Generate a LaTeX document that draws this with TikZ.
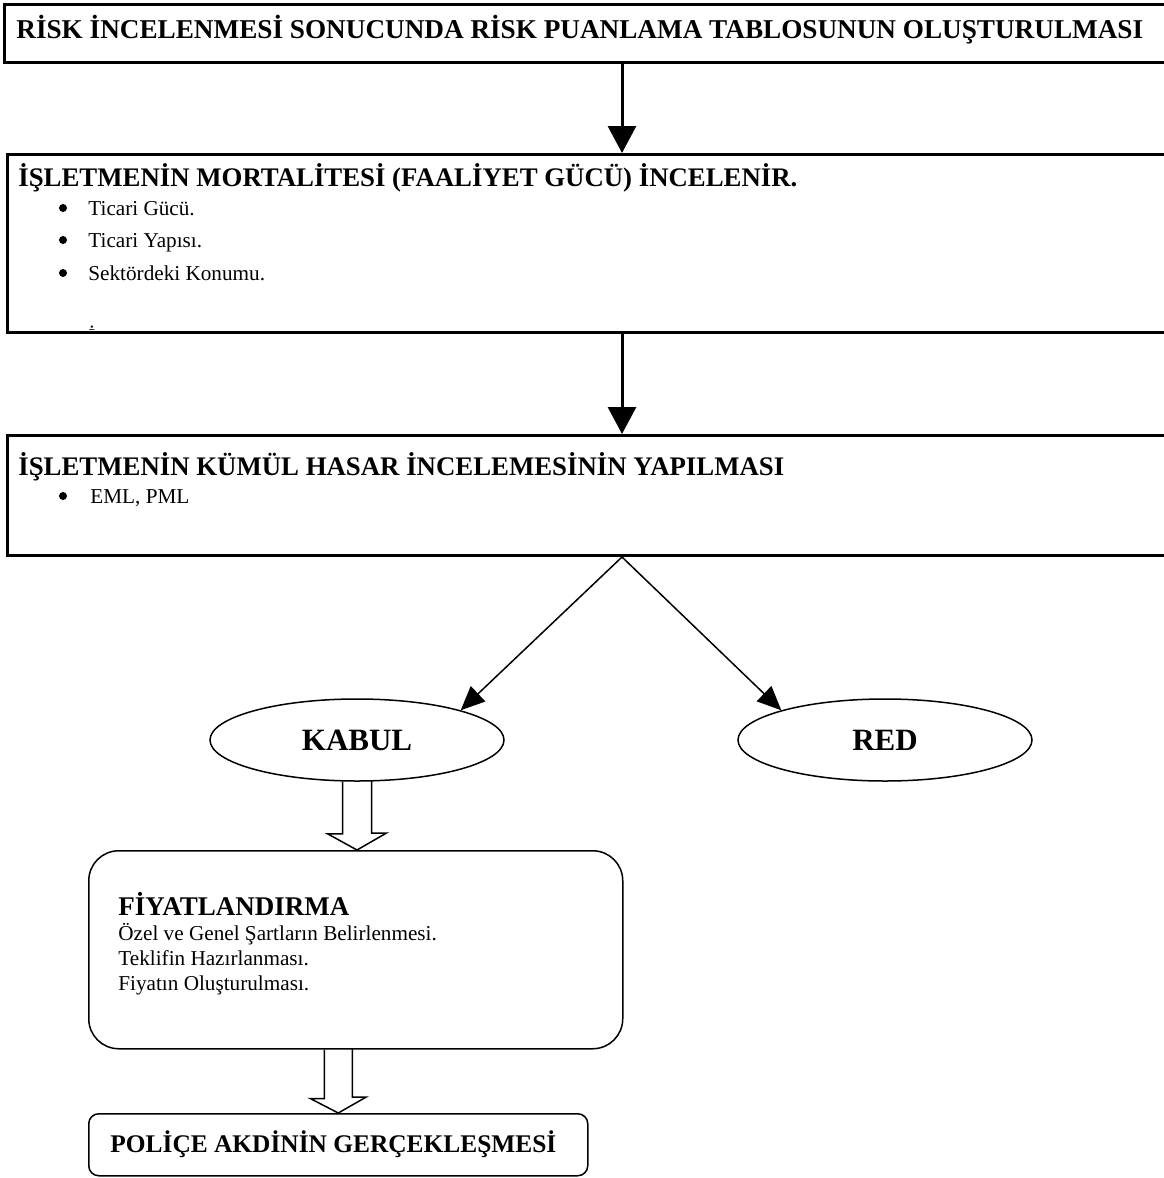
\documentclass[tikz,border=0pt]{standalone}
\usepackage{fontspec}
\setmainfont{Liberation Serif}
\usetikzlibrary{arrows.meta,shapes.geometric}

\begin{document}
\begin{tikzpicture}[x=.5pt,y=-.5pt,
    box/.style={draw, line width=1.5pt, anchor=north west, inner sep=0pt},
    rbox/.style={draw, line width=.75pt, anchor=north west, inner sep=0pt},
    head/.style={anchor=west, inner sep=0pt, font=\fontsize{13.4}{15}\selectfont\bfseries},
    item/.style={anchor=base west, inner sep=0pt, font=\fontsize{10.6}{12.5}\selectfont},
    dot/.style={circle, fill, inner sep=0pt, minimum size=4pt},
    oval/.style={ellipse, draw, line width=.75pt, minimum width=147pt, minimum height=41pt, inner sep=0pt, font=\fontsize{15.5}{18}\selectfont\bfseries},
    arr/.style={line width=1.5pt, -{Triangle[length=13.5pt,width=14pt]}},
    thinarr/.style={line width=.75pt, -{Triangle[length=12pt,width=10.5pt]}},
    hollow/.style={line width=.75pt, line join=miter}]
  \useasboundingbox (0,0) rectangle (1163,1178);
  \coordinate (mid) at (622,0);

  \node[box, minimum width=586pt, minimum height=29pt] (risk) at (3,3) {};
  \node[head, font=\fontsize{13.6}{16}\selectfont\bfseries] (risktxt) at (16,30)
    {RİSK İNCELENMESİ SONUCUNDA RİSK PUANLAMA TABLOSUNUN OLUŞTURULMASI};

  \node[box, minimum width=584.5pt, minimum height=89pt] (mort) at (6,153) {};
  \node[head] (morthead) at (18,178) {İŞLETMENİN MORTALİTESİ (FAALİYET GÜCÜ) İNCELENİR.};
  \foreach \y/\t [count=\i] in {215/Ticari Gücü., 247/Ticari Yapısı., 280/Sektördeki Konumu.} {
    \node[dot] (b\i) at (63,\y-7) {};
    \node[item] (t\i) at (88,\y) {\t};
  }
  \begin{scope}
    \clip (6,153) rectangle (1175,329);
    \node[item] (t4) at (88,343) {İ};
  \end{scope}

  \node[box, minimum width=584.5pt, minimum height=60pt] (kumul) at (6,434) {};
  \node[head] (kumulhead) at (18,467) {İŞLETMENİN KÜMÜL HASAR İNCELEMESİNİN YAPILMASI};
  \node[dot] (b5) at (63,496) {};
  \node[item] (t5) at (90,503) {EML, PML};

  \draw[arr] (risk.south -| mid) -- (mort.north -| mid);
  \draw[arr] (mort.south -| mid) -- (kumul.north -| mid);

  \node[oval] (kabul) at (357,740) {KABUL};
  \node[oval] (red) at (885,740) {RED};
  \draw[thinarr] (kumul.south -| mid) -- (kabul.16);
  \draw[thinarr] (kumul.south -| mid) -- (red.164);

  \node[rbox, rounded corners=15pt, minimum width=267pt, minimum height=99pt] (fiyat) at (88,850) {};
  \node[item, anchor=north west, align=left] (fiyattxt) at (118,892)
    {{\fontsize{13.5}{15}\selectfont\bfseries FİYATLANDIRMA}\\
     Özel ve Genel Şartların Belirlenmesi.\\
     Teklifin Hazırlanması.\\
     Fiyatın Oluşturulması.};

  \node[rbox, rounded corners=5pt, minimum width=249.5pt, minimum height=31pt] (police) at (88,1113) {};
  \node[head, font=\fontsize{12.7}{15}\selectfont\bfseries] (policetxt) at (110,1144) {POLİÇE AKDİNİN GERÇEKLEŞMESİ};

  \draw[hollow] (kabul.south) ++(-14.5,0) -- ++(0,52) -- ++(-15,0) -- (fiyat.north -| kabul.south)
    -- ++(29.5,-17) -- ++(-15,0) -- ++(0,-52);
  \draw[hollow] (police.north |- fiyat.south) ++(-14,0) -- ++(0,49) -- ++(-14,0) -- (police.north)
    -- ++(28,-16) -- ++(-14,0) -- ++(0,-49);
\end{tikzpicture}
\end{document}
